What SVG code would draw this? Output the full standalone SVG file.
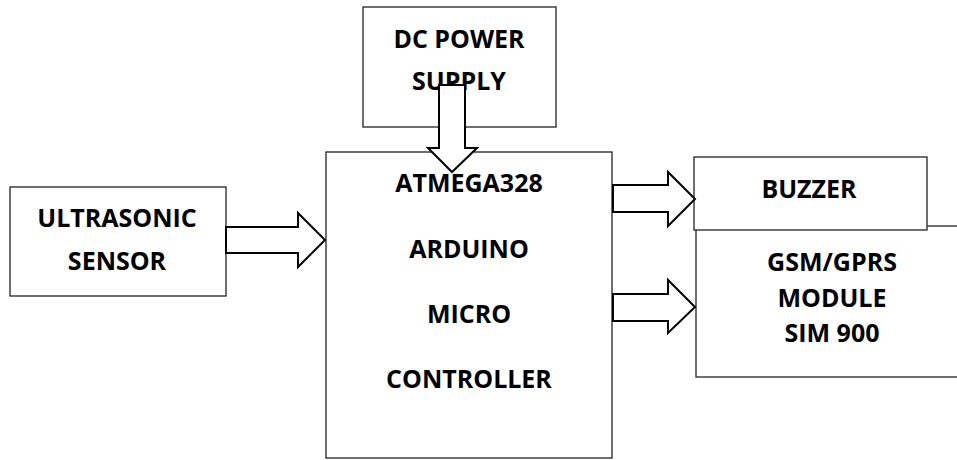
<svg xmlns="http://www.w3.org/2000/svg" width="957" height="460" viewBox="0 0 957 460">
<style>
.box{fill:#fff;stroke:#222;stroke-width:1.3}
.arr{fill:#fff;stroke:#000;stroke-width:2;stroke-linejoin:miter}
.t{font-family:"Open Sans","Liberation Sans",sans-serif;font-weight:bold;font-size:25px;fill:#000;text-anchor:middle}
</style>
<rect width="957" height="460" fill="#fff"/>
<g id="main">
<rect class="box" x="326" y="152" width="286" height="306"/>
<text class="t" x="469" y="192">ATMEGA328</text>
<text class="t" x="469" y="258">ARDUINO</text>
<text class="t" x="469" y="323">MICRO</text>
<text class="t" x="469" y="388">CONTROLLER</text>
</g>
<g id="ultrasonic">
<rect class="box" x="10" y="187" width="216" height="109"/>
<text class="t" x="117" y="227">ULTRASONIC</text>
<text class="t" x="117" y="270">SENSOR</text>
</g>
<g id="gsm">
<rect class="box" x="696" y="226" width="275" height="151"/>
<text class="t" x="832" y="271">GSM/GPRS</text>
<text class="t" x="832" y="307">MODULE</text>
<text class="t" x="832" y="342">SIM 900</text>
</g>
<g id="buzzer">
<rect class="box" x="694" y="157" width="233" height="73"/>
<text class="t" x="809" y="198">BUZZER</text>
</g>
<g id="dc">
<rect class="box" x="363" y="7" width="193" height="120"/>
<text class="t" x="459" y="48">DC POWER</text>
<text class="t" x="459" y="90">SUPPLY</text>
</g>
<g id="connectors">
<polygon class="arr" points="226,227 298,227 298,213 325,240 298,267 298,253 226,253"/>
<polygon class="arr" points="439,85 465,85 465,148 477,148 452,172 428,148 439,148"/>
<polygon class="arr" points="613,185 668,185 668,172 695,199 668,226 668,212 613,212"/>
<polygon class="arr" points="613,294 668,294 668,280 695,307 668,333 668,321 613,321"/>
</g>
</svg>
